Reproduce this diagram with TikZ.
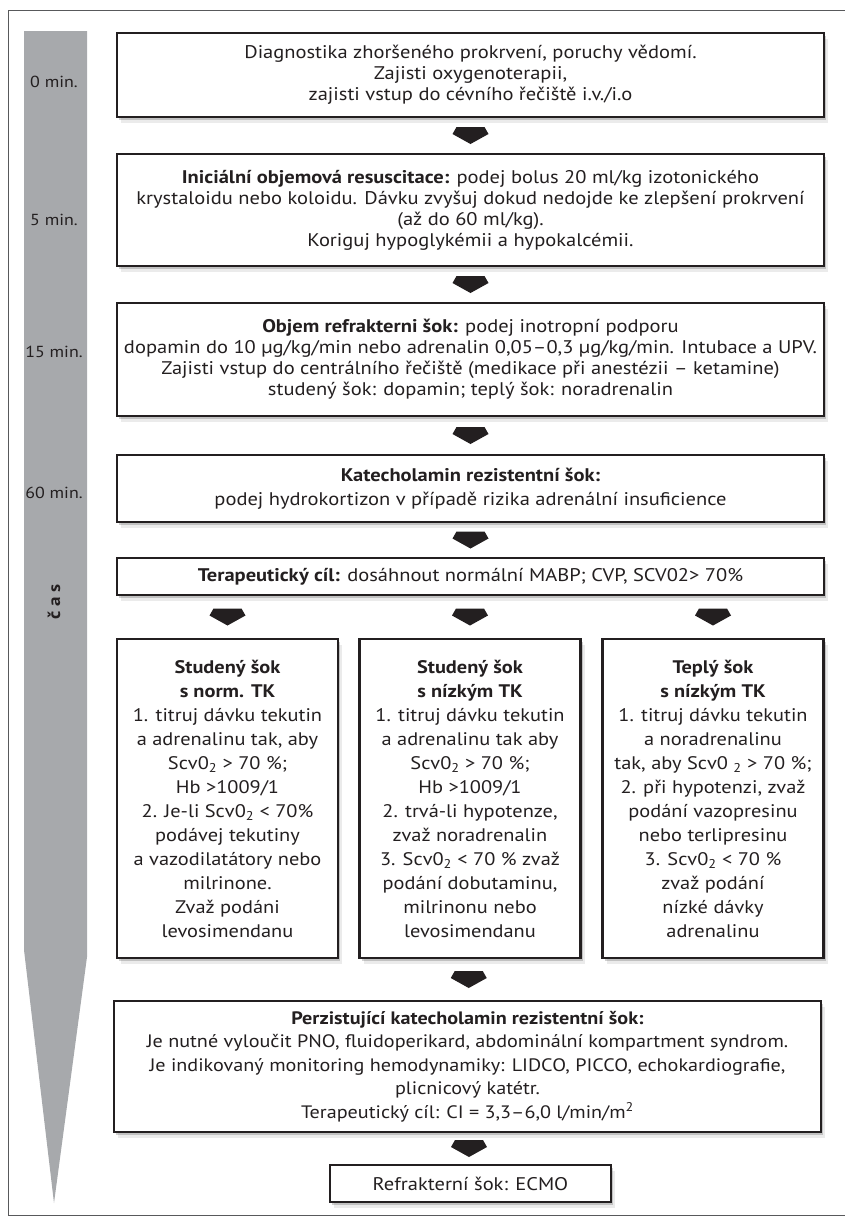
\documentclass[tikz,border=0pt]{standalone}
\usepackage{fontspec}
\setmainfont{PT Sans}[FakeStretch=1.12]
\usetikzlibrary{positioning,shadows,calc}
\definecolor{ink}{HTML}{231F20}
\definecolor{bargray}{HTML}{A7A9AC}
\definecolor{framegray}{HTML}{58595B}

\begin{document}
\begin{tikzpicture}[x=1pt,y=1pt,
    stepbox/.style={draw=ink, line width=2.2pt, fill=white, text=ink, align=center, inner sep=0pt,
      font=\fontsize{18.3}{21}\selectfont,
      drop shadow={shadow xshift=2pt,shadow yshift=-3pt,opacity=.18,fill=black},
      drop shadow={shadow xshift=4pt,shadow yshift=-6pt,opacity=.08,fill=black}},
    widebox/.style={stepbox, minimum width=707pt},
    colbox/.style={stepbox, minimum width=221pt, minimum height=319pt, font=\fontsize{18.2}{24}\selectfont},
    timelabel/.style={text=ink, font=\fontsize{16}{18}\selectfont},
    blockarrow/.pic={\fill[ink] (-14,8.5) -- (14,8.5) -- (18,1.5) -- (0,-8.5) -- (-18,1.5) -- cycle;}]
  \useasboundingbox (0,0) rectangle (844,-1216);
  % frame and time bar
  \draw[framegray, line width=1pt] (850,-10) -- (8,-10) -- (8,-1215.5) -- (850,-1215.5);
  \fill[bargray] (24,-31) -- (87,-31) -- (87,-957) -- (54,-1203) -- (24,-950) -- cycle;
  \node[timelabel] (t0) at (54,-82) {0 min.};
  \node[timelabel] (t5) at (54,-220) {5 min.};
  \node[timelabel] (t15) at (54,-352) {15 min.};
  \node[timelabel] (t60) at (54,-493) {60 min.};
  \node[timelabel, rotate=90, font=\fontsize{17}{18}\selectfont\bfseries] (cas) at (54,-602) {č a s};

  % main steps
  \node[widebox, minimum height=84pt] (b1) at (470.5,-75) {Diagnostika zhoršeného prokrvení, poruchy vědomí.\\
    Zajisti oxygenoterapii,\\ zajisti vstup do cévního řečiště i.v./i.o};
  \node[widebox, minimum height=112pt] (b2) at (470.5,-210) {\textbf{Iniciální objemová resuscitace:} podej bolus 20 ml/kg izotonického\\
    krystaloidu nebo koloidu. Dávku zvyšuj dokud nedojde ke zlepšení prokrvení\\
    (až do 60 ml/kg).\\ Koriguj hypoglykémii a hypokalcémii.};
  \node[widebox, minimum height=113pt] (b3) at (470.5,-359.5) {\textbf{Objem refrakterni šok:} podej inotropní podporu\\
    dopamin do 10 µg/kg/min nebo adrenalin 0,05–0,3 µg/kg/min. Intubace a UPV.\\
    Zajisti vstup do centrálního řečiště (medikace při anestézii – ketamine)\\
    studený šok: dopamin; teplý šok: noradrenalin};
  \node[widebox, minimum height=67pt, font=\fontsize{18.3}{24}\selectfont] (b4) at (470.5,-488.5) {\textbf{Katecholamin rezistentní šok:}\\
    podej hydrokortizon v případě rizika adrenální insuficience};
  \node[widebox, minimum height=37pt] (b5) at (470.5,-576.5) {\textbf{Terapeutický cíl:} dosáhnout normální MABP; CVP, SCV02> 70\%};

  % three branches
  \node[colbox] (c1) at (227.5,-798.5) {\textbf{Studený šok}\\ \textbf{s norm. TK}\\ 1. titruj dávku tekutin\\
    a adrenalinu tak, aby\\ Scv0\textsubscript{2} > 70 \%;\\ Hb >1009/1\\ 2. Je-li Scv0\textsubscript{2} < 70\%\\
    podávej tekutiny\\ a vazodilatátory nebo\\ milrinone.\\ Zvaž podáni\\ levosimendanu};
  \node[colbox] (c2) at (470,-798.5) {\textbf{Studený šok}\\ \textbf{s nízkým TK}\\ 1. titruj dávku tekutin\\
    a adrenalinu tak aby\\ Scv0\textsubscript{2} > 70 \%;\\ Hb >1009/1\\ 2. trvá-li hypotenze,\\
    zvaž noradrenalin\\ 3. Scv0\textsubscript{2} < 70 \% zvaž\\ podání dobutaminu,\\ milrinonu nebo\\ levosimendanu};
  \node[colbox] (c3) at (713,-798.5) {\textbf{Teplý šok}\\ \textbf{s nízkým TK}\\ 1. titruj dávku tekutin\\
    a noradrenalinu\\ tak, aby Scv0 \textsubscript{2} > 70 \%;\\ 2. při hypotenzi, zvaž\\ podání vazopresinu\\
    nebo terlipresinu\\ 3. Scv0\textsubscript{2} < 70 \%\\ zvaž podání\\ nízké dávky\\ adrenalinu};

  % late steps
  \node[widebox, minimum height=131pt, font=\fontsize{18}{23.5}\selectfont] (b6) at (467.5,-1066.5) {\textbf{Perzistující katecholamin rezistentní šok:}\\
    Je nutné vyloučit PNO, fluidoperikard, abdominální kompartment syndrom.\\
    Je indikovaný monitoring hemodynamiky: LIDCO, PICCO, echokardiografie,\\
    plicnicový katétr.\\ Terapeutický cíl: CI = 3,3–6,0 l/min/m\textsuperscript{2}};
  \node[stepbox, minimum width=281pt, minimum height=37pt] (b7) at (470.5,-1183.5) {Refrakterní šok: ECMO};

  % arrows
  \pic at ($(b1.south)!0.5!(b2.north)$) {blockarrow};
  \pic at ($(b2.south)!0.5!(b3.north)$) {blockarrow};
  \pic at ($(b3.south)!0.5!(b4.north)$) {blockarrow};
  \pic at ($(b4.south)!0.5!(b5.north)$) {blockarrow};
  \pic at ($(b5.south -| c1)!0.5!(c1.north)$) {blockarrow};
  \pic at ($(b5.south -| c2)!0.5!(c2.north)$) {blockarrow};
  \pic at ($(b5.south -| c3)!0.5!(c3.north)$) {blockarrow};
  \pic at ($(c2.south)!0.5!(b6.north)$) {blockarrow};
  \pic at ($(b6.south)!0.5!(b7.north)$) {blockarrow};
\end{tikzpicture}
\end{document}
